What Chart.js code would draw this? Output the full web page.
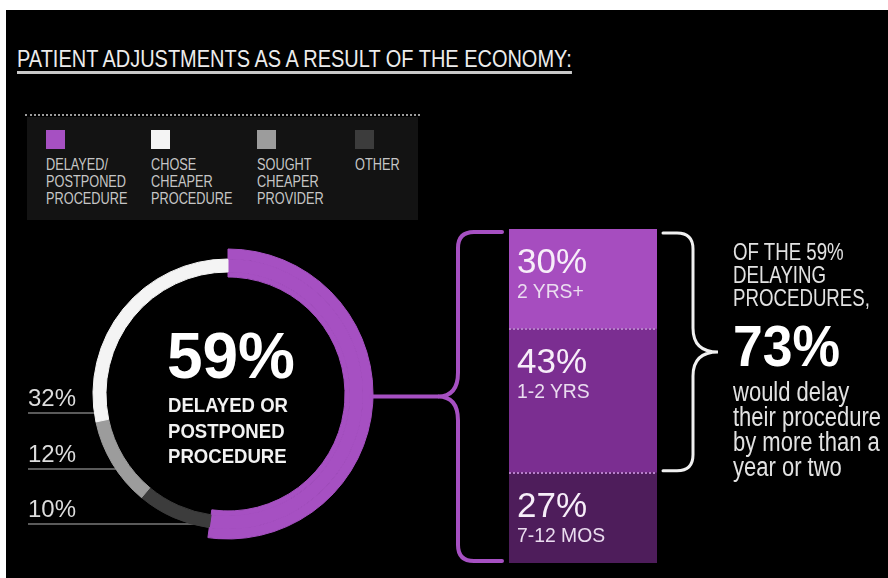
<!DOCTYPE html>
<html>
<head>
<meta charset="utf-8">
<script src="https://cdn.jsdelivr.net/npm/chart.js@4.4.1/dist/chart.umd.min.js"></script>
<style>
  html, body { margin: 0; padding: 0; background: #fff; }
  body { position: relative; width: 888px; height: 578px; overflow: hidden;
         font-family: "Liberation Sans", Arial, sans-serif; }
  #board { position: absolute; left: 6px; top: 10px; width: 882px; height: 568px; background: #000; }
  canvas { position: absolute; left: 0; top: 0; }
  .t { position: absolute; white-space: nowrap; transform-origin: 0 0; }
  #title { left: 17px; top: 47px; font-size: 24px; line-height: 24px; color: #ececec;
           border-bottom: 3px solid #c9c9c9; }
  #dots { position: absolute; left: 25px; top: 114px; width: 395px; border-top: 2px dotted #9c9c9c; }
  #legend { position: absolute; left: 27px; top: 117px; width: 391px; height: 103px; background: #131313; }
  .item { position: absolute; top: 13px; font-size: 17px; line-height: 17px; color: #c6c6c6; white-space: nowrap; }
  .item i { display: block; width: 19px; height: 19px; margin-bottom: 7px; }
  .item span { display: block; transform: scaleX(0.75); transform-origin: 0 0; }
  #big { left: 167px; top: 324px; font-size: 64px; line-height: 64px; font-weight: bold; color: #fff; }
  #bigsub { left: 168px; top: 392px; font-size: 21px; line-height: 25.5px; font-weight: bold; color: #f2f2f2; }
  .lead { font-size: 24px; line-height: 24px; color: #dcdcdc; }
  .pct { font-size: 35px; line-height: 35px; color: #f7eef9; }
  .sub { font-size: 21px; line-height: 21px; color: #eadcef; transform: scaleX(0.92); }
  #of { left: 733px; top: 240px; font-size: 24px; line-height: 23px; color: #e2e2e2; }
  #share { left: 733px; top: 317px; font-size: 58px; line-height: 58px; font-weight: bold; color: #fff; }
  #note { left: 733px; top: 380px; font-size: 27px; line-height: 25px; color: #e2e2e2; }
</style>
</head>
<body>
<div id="board"></div>
<div id="title" class="t" data-w="555">PATIENT ADJUSTMENTS AS A RESULT OF THE ECONOMY:</div>
<div id="dots"></div>
<div id="legend"></div>
<canvas id="donut" width="888" height="578"></canvas>
<canvas id="bar" width="888" height="578"></canvas>
<div id="big" class="t" data-w="128">59%</div>
<div id="bigsub" class="t" data-w="120">DELAYED OR<br>POSTPONED<br>PROCEDURE</div>
<div id="of" class="t" data-w="137">OF THE 59%<br>DELAYING<br>PROCEDURES,</div>
<div id="share" class="t" data-w="107">73%</div>
<div id="note" class="t" data-w="148">would delay<br>their procedure<br>by more than a<br>year or two</div>
<script>
// how patients adjusted (share of respondents, multiple answers allowed)
const categories = ['DELAYED/\nPOSTPONED\nPROCEDURE', 'CHOSE\nCHEAPER\nPROCEDURE', 'SOUGHT\nCHEAPER\nPROVIDER', 'OTHER'];
const shares = [59, 32, 12, 10];
const shareColors = ['#a650c2', '#f4f4f4', '#9c9c9c', '#3c3c3c'];

// how long the delayers would wait
const delayLabels = ['7-12 MOS', '1-2 YRS', '2 YRS+'];
const delayShares = [27, 43, 30];
const delayColors = ['#4e1d5b', '#7b2e91', '#a64dbf'];

// ring runs clockwise from 12 o'clock: delayed, other, sought, chose
const ringOrder = [0, 3, 2, 1];
// labelled wedges on the left, top to bottom, and the y of their rules
const leaderItems = [1, 2, 3];
const leaderY = [413, 469, 524];

const legendBox = document.getElementById('legend');
const legendX = [19, 124, 230, 328];
categories.forEach((c, i) => {
  const d = document.createElement('div');
  d.className = 'item';
  d.style.left = legendX[i] + 'px';
  d.innerHTML = '<i style="background:' + shareColors[i] + '"></i><span>' + c.split('\n').join('<br>') + '</span>';
  legendBox.appendChild(d);
});

const clear = 'rgba(0,0,0,0)';
const ringData = ringOrder.map(i => shares[i]);
const ringColors = ringOrder.map(i => shareColors[i]);
const delayedOnly = ringOrder.map(i => i === 0 ? shareColors[0] : clear);

// rules from the percentages on the left into the thin ring
const leaders = {
  id: 'leaders',
  beforeDatasetsDraw(chart) {
    const arc = chart.getDatasetMeta(1).data[0];
    const ctx = chart.ctx;
    ctx.save();
    ctx.strokeStyle = '#5a5a5a';
    ctx.lineWidth = 2;
    leaderY.forEach(y => {
      const dy = y - arc.y;
      const x = arc.x - Math.sqrt(arc.outerRadius * arc.outerRadius - dy * dy);
      ctx.beginPath();
      ctx.moveTo(28, y);
      ctx.lineTo(x + 2, y);
      ctx.stroke();
    });
    ctx.restore();
  }
};

// the delayed wedge is wider than the rest, so it is split across three rings
const donut = new Chart(document.getElementById('donut'), {
  type: 'doughnut',
  data: {
    labels: ringOrder.map(i => categories[i]),
    datasets: [
      { data: ringData, backgroundColor: delayedOnly, borderColor: delayedOnly, weight: 10 },
      { data: ringData, backgroundColor: ringColors, borderColor: ringColors, weight: 13 },
      { data: ringData, backgroundColor: delayedOnly, borderColor: delayedOnly, weight: 5 }
    ]
  },
  options: {
    responsive: false,
    animation: false,
    events: [],
    radius: 145,
    cutout: (117 / 145 * 100) + '%',
    borderWidth: 1,
    layout: { padding: { left: 78, top: 244, right: 510, bottom: 34 } },
    plugins: { legend: { display: false }, tooltip: { enabled: false } }
  },
  plugins: [leaders]
});

leaderItems.forEach((k, j) => {
  const d = document.createElement('div');
  d.className = 't lead';
  d.style.left = '28px';
  d.style.top = (leaderY[j] - 27) + 'px';
  d.textContent = shares[k] + '%';
  document.body.appendChild(d);
});

function brace(ctx, armX, spineX, tipX, top, bottom) {
  const mid = (top + bottom) / 2;
  const r = 16;
  const s = Math.sign(armX - spineX);
  ctx.beginPath();
  ctx.moveTo(armX, top);
  ctx.lineTo(spineX + s * r, top);
  ctx.quadraticCurveTo(spineX, top, spineX, top + r);
  ctx.lineTo(spineX, mid - 24);
  ctx.quadraticCurveTo(spineX, mid, tipX, mid);
  ctx.quadraticCurveTo(spineX, mid, spineX, mid + 24);
  ctx.lineTo(spineX, bottom - r);
  ctx.quadraticCurveTo(spineX, bottom, spineX + s * r, bottom);
  ctx.lineTo(armX, bottom);
  ctx.stroke();
}

// dotted seams between segments, plus the two braces
const decor = {
  id: 'decor',
  afterDatasetsDraw(chart) {
    const ctx = chart.ctx;
    const y = chart.scales.y;
    const area = chart.chartArea;
    ctx.save();
    ctx.strokeStyle = '#b77fca';
    ctx.lineWidth = 2;
    ctx.setLineDash([2, 2]);
    [delayShares[0], delayShares[0] + delayShares[1]].forEach(v => {
      const py = Math.round(y.getPixelForValue(v));
      ctx.beginPath();
      ctx.moveTo(area.left, py);
      ctx.lineTo(area.right, py);
      ctx.stroke();
    });
    ctx.setLineDash([]);

    // purple brace: whole bar, fed from the delayed wedge
    const arc = donut.getDatasetMeta(0).data[0];
    const top = area.top + 3, bottom = area.bottom - 2;
    const tipX = area.left - 71;
    ctx.strokeStyle = shareColors[0];
    ctx.lineWidth = 4;
    ctx.lineCap = 'round';
    brace(ctx, area.left - 7, area.left - 51, tipX, top, bottom);
    ctx.beginPath();
    ctx.moveTo(arc.x + arc.outerRadius - 2, (top + bottom) / 2);
    ctx.lineTo(tipX, (top + bottom) / 2);
    ctx.stroke();

    // white brace: the two longest waits
    ctx.strokeStyle = '#f0f0f0';
    ctx.lineWidth = 3;
    brace(ctx, area.right + 6, area.right + 36, area.right + 61, area.top + 4, y.getPixelForValue(delayShares[0]) - 2);
    ctx.restore();
  }
};

const bar = new Chart(document.getElementById('bar'), {
  type: 'bar',
  data: {
    labels: ['DELAYED'],
    datasets: delayShares.map((v, i) => ({
      label: delayLabels[i],
      data: [v],
      backgroundColor: delayColors[i],
      borderWidth: 0,
      barPercentage: 1,
      categoryPercentage: 1
    }))
  },
  options: {
    responsive: false,
    animation: false,
    events: [],
    layout: { padding: { left: 509, right: 231, top: 229, bottom: 15 } },
    scales: {
      x: { stacked: true, display: false },
      y: { stacked: true, display: false, min: 0, max: 100 }
    },
    plugins: { legend: { display: false }, tooltip: { enabled: false } }
  },
  plugins: [decor]
});

// value and duration written inside each segment
delayShares.forEach((v, i) => {
  const el = bar.getDatasetMeta(i).data[0];
  const segTop = Math.min(el.y, el.base);
  const left = el.x - el.width / 2 + 8;
  const p = document.createElement('div');
  p.className = 't pct';
  p.style.left = left + 'px';
  p.style.top = (segTop + 14) + 'px';
  p.textContent = v + '%';
  document.body.appendChild(p);
  const s = document.createElement('div');
  s.className = 't sub';
  s.style.left = left + 'px';
  s.style.top = (segTop + 51) + 'px';
  s.textContent = delayLabels[i];
  document.body.appendChild(s);
});

// condensed lettering: squeeze each block to its set width
document.querySelectorAll('[data-w]').forEach(el => {
  const w = el.getBoundingClientRect().width;
  el.style.transform = 'scaleX(' + (el.dataset.w / w).toFixed(3) + ')';
});
</script>
</body>
</html>
